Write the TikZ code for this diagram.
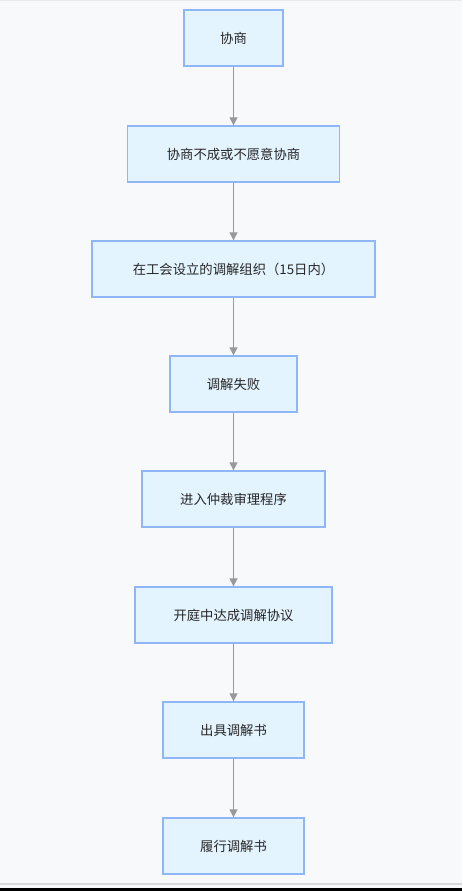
\documentclass[tikz,border=0pt]{standalone}
\usepackage{fontspec}
\setmainfont{Noto Sans CJK SC}
\usepackage{tikz}
\usetikzlibrary{arrows.meta}
\usetikzlibrary{backgrounds,positioning}
\usepackage{xcolor}
\definecolor{boxfill}{HTML}{E4F4FF}
\definecolor{boxline}{HTML}{8EB6F8}
\definecolor{arrowgray}{HTML}{999999}
\definecolor{pagebg}{HTML}{F8F9FB}

\begin{document}
\begin{tikzpicture}[x=0.75pt,y=-0.75pt]
      \tikzstyle{every node}=[font=\fontsize{10}{12}\selectfont, text=black!85]
      \tikzstyle{stage}=[draw=boxline, fill=boxfill, line width=1pt, minimum height=42pt, inner sep=0pt]
      \tikzstyle{flow}=[draw=arrowgray, line width=0.9pt, -{Triangle[width=6pt,length=6pt]}]

      % page
      \fill[pagebg] (0,0) rectangle (462,891);
      \useasboundingbox (0,0) rectangle (462,891);
      \draw[black!8, line width=0.8pt] (0,0.5) -- (462,0.5);
      \draw[black!15, line width=1pt] (0,884) -- (462,884);
      \fill[black] (0,888) rectangle (462,891);

      \node[stage, minimum width=74.25pt]  (n1) at (233.5,38)  {协商};
      \node[stage, minimum width=159pt]    (n2) at (233.5,154) {协商不成或不愿意协商};
      \node[stage, minimum width=212.25pt] (n3) at (233.5,269) {在工会设立的调解组织（15日内）};
      \node[stage, minimum width=95.25pt]  (n4) at (233.5,384) {调解失败};
      \node[stage, minimum width=137.25pt] (n5) at (233.5,499) {进入仲裁审理程序};
      \node[stage, minimum width=147.75pt] (n6) at (233.5,615) {开庭中达成调解协议};
      \node[stage, minimum width=105.75pt] (n7) at (233.5,730) {出具调解书};
      \node[stage, minimum width=105.75pt] (n8) at (233.5,846) {履行调解书};

      \draw[flow] (n1) -- (n2);
      \draw[flow] (n2) -- (n3);
      \draw[flow] (n3) -- (n4);
      \draw[flow] (n4) -- (n5);
      \draw[flow] (n5) -- (n6);
      \draw[flow] (n6) -- (n7);
      \draw[flow] (n7) -- (n8);
\end{tikzpicture}
\end{document}
